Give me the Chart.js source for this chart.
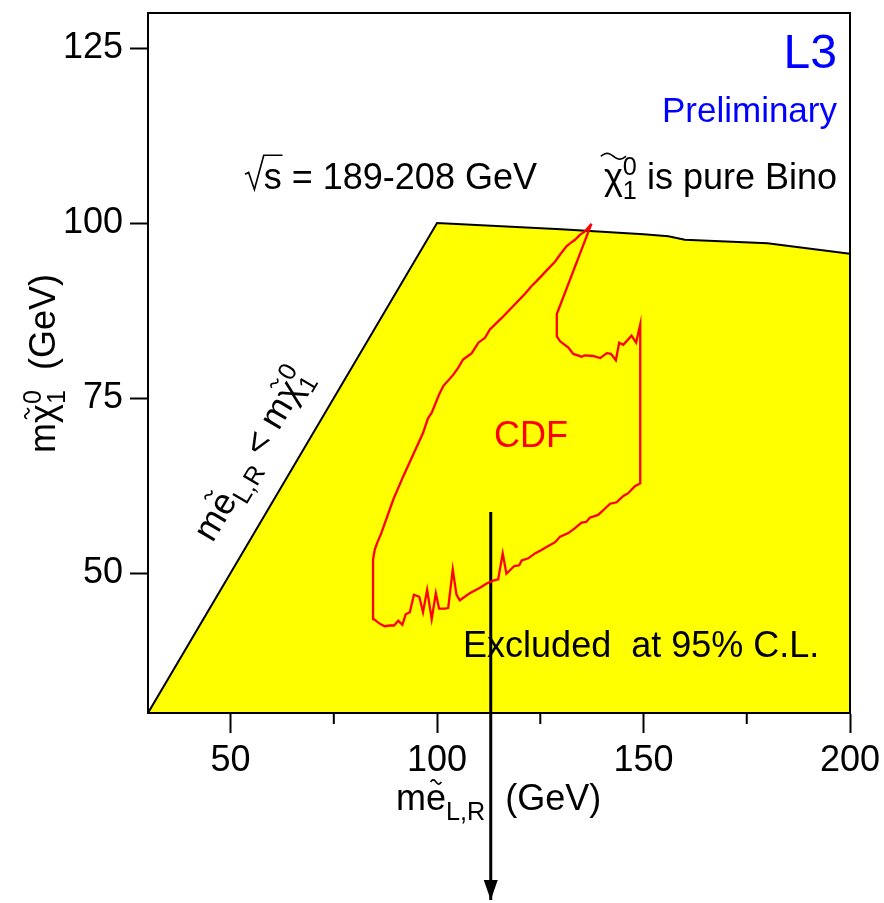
<!DOCTYPE html>
<html>
<head>
<meta charset="utf-8">
<script src="https://cdn.jsdelivr.net/npm/chart.js@4.4.0/dist/chart.umd.min.js"></script>
<style>
  html, body { margin: 0; padding: 0; background: #fff; }
  #wrap { width: 884px; height: 903px; position: relative; }
</style>
</head>
<body>
<div id="wrap"><canvas id="chart"></canvas></div>
<script>
const FONT = '"Liberation Sans", Arial, Helvetica, sans-serif';

// edge of the excluded region: kinematic limit, then the upper bound
const boundaryX = [30, 100, 130, 150, 156, 160, 180, 200];
const boundaryY = [30, 100, 99.1, 98.4, 98.1, 97.6, 97.1, 95.6];

// CDF contour, closed
const cdfX = [
  137.4, 129.0, 129.0, 129.8, 131.8, 133.0, 135.0, 135.8, 137.8, 139.5,
  141.1, 142.1, 143.3, 144.1, 145.1, 147.1, 148.2, 149.2, 149.2, 147.9,
  146.3, 145.1, 143.5, 141.9, 140.3, 139.0, 137.0, 136.1, 135.0, 133.4,
  131.8, 129.8, 128.6, 126.5, 125.3, 123.7, 122.1, 120.5, 119.9, 118.7,
  116.8, 115.9, 114.8, 113.6, 112.0, 110.4, 107.9, 105.5, 104.7, 103.8,
  102.7, 101.9, 100.5, 99.7, 98.7, 97.6, 96.6, 95.7, 94.4, 93.4,
  92.4, 91.6, 90.6, 89.6, 88.6, 87.3, 86.0, 84.7, 84.5, 84.9,
  85.5, 86.5, 89.4, 91.8, 94.2, 96.6, 97.8, 98.7, 100.5, 101.5,
  103.9, 105.1, 106.3, 108.4, 110.0, 111.6, 112.8, 115.6, 118.4, 121.3,
  122.9, 124.1, 126.5, 128.6, 129.8, 131.4, 132.2, 133.4, 134.6, 135.8, 137.4
];
const cdfY = [
  99.9, 87.0, 83.8, 83.1, 82.2, 81.3, 80.9, 81.1, 81.0, 80.7,
  81.4, 81.3, 80.4, 82.9, 82.6, 83.9, 82.9, 85.5, 62.8, 62.4,
  61.4, 61.0, 60.1, 59.9, 59.0, 58.3, 57.9, 57.3, 57.2, 56.4,
  55.7, 55.2, 54.4, 53.7, 53.3, 52.8, 52.1, 51.8, 51.1, 51.0,
  49.9, 52.8, 49.1, 48.9, 48.5, 47.9, 47.1, 46.1, 46.9, 50.5,
  45.0, 44.9, 44.9, 47.1, 43.4, 47.6, 44.4, 46.6, 46.9, 44.4,
  44.1, 42.6, 43.2, 42.5, 42.5, 42.4, 42.8, 43.4, 51.9, 53.3,
  54.3, 55.7, 60.5, 63.8, 66.9, 70.0, 72.1, 72.9, 75.5, 76.7,
  78.3, 79.3, 80.5, 81.4, 82.9, 83.6, 84.8, 86.4, 88.1, 89.9,
  91.0, 91.7, 93.2, 94.5, 95.5, 96.7, 97.1, 97.6, 98.3, 98.8, 99.9
];

// downward arrow, runs past the bottom of the frame
const arrowX = [113, 113];
const arrowY = [58.7, 3.3];

const xTicks = [50, 100, 150, 200];
const xMinorTicks = [75, 125, 175];
const yTicks = [50, 75, 100, 125];

function points(xs, ys) {
  return xs.map((x, i) => ({ x, y: ys[i] }));
}

function drawTilde(ctx, cx, cy, w, h) {
  ctx.beginPath();
  for (let i = 0; i <= 20; i++) {
    const t = i / 20;
    const px = cx - w / 2 + t * w;
    const py = cy - Math.sin(t * Math.PI * 2) * h / 2;
    if (i === 0) ctx.moveTo(px, py); else ctx.lineTo(px, py);
  }
  ctx.stroke();
}

// text with tildes, stacked sub/superscripts and a square root
function rich(ctx, parts, x, y, size, color, align) {
  const big = `${size}px ${FONT}`;
  const little = `${size * 0.7}px ${FONT}`;
  ctx.fillStyle = color;
  ctx.strokeStyle = color;
  ctx.lineWidth = Math.max(1.5, size / 22);
  ctx.textBaseline = 'alphabetic';
  ctx.textAlign = 'left';
  let x0 = 0;
  const run = (draw) => {
    let cx = 0;
    for (const p of parts) {
      if (p.sqrt) {
        ctx.font = big;
        const w = ctx.measureText(p.sqrt).width;
        const r = size * 0.52;
        if (draw) {
          const a = x0 + cx;
          ctx.beginPath();
          ctx.moveTo(a, y - size * 0.42);
          ctx.lineTo(a + size * 0.1, y - size * 0.47);
          ctx.lineTo(a + size * 0.26, y);
          ctx.lineTo(a + r, y - size * 0.95);
          ctx.lineTo(a + r + w + size * 0.02, y - size * 0.95);
          ctx.stroke();
          ctx.fillText(p.sqrt, a + r, y);
        }
        cx += r + w;
      } else if (p.sub !== undefined) {
        ctx.font = little;
        const ws = ctx.measureText(p.sub).width;
        const wp = p.sup ? ctx.measureText(p.sup).width : 0;
        if (draw) {
          ctx.fillText(p.sub, x0 + cx, y + size * 0.27);
          if (p.sup) ctx.fillText(p.sup, x0 + cx, y - size * 0.4);
        }
        cx += Math.max(ws, wp);
      } else {
        ctx.font = big;
        const w = ctx.measureText(p.t).width;
        if (draw) {
          ctx.fillText(p.t, x0 + cx, y);
          if (p.tilde === 'wide') drawTilde(ctx, x0 + cx + w / 2, y - size * 0.92, size * 0.7, size * 0.16);
          else if (p.tilde) drawTilde(ctx, x0 + cx + w / 2, y - size * 0.78, size * 0.3, size * 0.12);
        }
        cx += w;
      }
    }
    return cx;
  };
  const width = run(false);
  x0 = align === 'right' ? x - width : align === 'center' ? x - width / 2 : x;
  run(true);
}

const decorations = {
  id: 'decorations',
  afterDatasetsDraw(chart) {
    const { ctx } = chart;
    const meta = chart.getDatasetMeta(1);
    const tip = meta.data[meta.data.length - 1];
    ctx.save();
    ctx.fillStyle = '#000';
    ctx.beginPath();
    ctx.moveTo(tip.x, tip.y);
    ctx.lineTo(tip.x - 7, tip.y - 20);
    ctx.lineTo(tip.x + 7, tip.y - 20);
    ctx.closePath();
    ctx.fill();
    ctx.restore();
  },
  afterDraw(chart) {
    const { ctx, chartArea: a, scales } = chart;
    const X = (v) => scales.x.getPixelForValue(v);
    const Y = (v) => scales.y.getPixelForValue(v);
    ctx.save();

    // frame
    ctx.strokeStyle = '#000';
    ctx.lineWidth = 2;
    ctx.strokeRect(a.left, a.top, a.right - a.left, a.bottom - a.top);

    // minor ticks on the x axis
    ctx.beginPath();
    for (const v of xMinorTicks) {
      ctx.moveTo(X(v), a.bottom);
      ctx.lineTo(X(v), a.bottom + 11);
    }
    ctx.stroke();

    const S = 36;
    rich(ctx, [{ t: 'L3' }], X(196.85), Y(122.1), 48, '#0000ff', 'right');
    rich(ctx, [{ t: 'Preliminary' }], X(196.85), Y(114.4), 35, '#0000ff', 'right');
    rich(ctx, [{ t: '\u03c7', tilde: 'wide' }, { sub: '1', sup: '0' }, { t: ' is pure Bino' }],
      X(196.85), Y(104.8), S, '#000', 'right');
    rich(ctx, [{ sqrt: 's' }, { t: ' = 189-208 GeV' }], X(53.5), Y(104.8), S, '#000', 'left');
    rich(ctx, [{ t: 'CDF' }], X(113.8), Y(68), S, '#ff0000', 'left');
    rich(ctx, [{ t: 'Excluded  at 95% C.L.' }], X(106.3), Y(38), S, '#000', 'left');

    // label along the kinematic limit
    const ang = Math.atan2(Y(100) - Y(30), X(100) - X(30));
    ctx.save();
    ctx.translate(X(45.6), Y(54.2));
    ctx.rotate(ang);
    rich(ctx, [{ t: 'm' }, { t: 'e', tilde: true }, { sub: 'L,R' }, { t: ' < m' },
      { t: '\u03c7', tilde: true }, { sub: '1', sup: '0' }], 0, 0, S, '#000', 'left');
    ctx.restore();

    // axis titles
    rich(ctx, [{ t: 'm' }, { t: 'e', tilde: true }, { sub: 'L,R' }, { t: '  (GeV)' }],
      a.left + 248, a.bottom + 97, S, '#000', 'left');
    ctx.save();
    ctx.translate(a.left - 93, a.top + 440);
    ctx.rotate(-Math.PI / 2);
    rich(ctx, [{ t: 'm' }, { t: '\u03c7', tilde: true }, { sub: '1', sup: '0' }, { t: '  (GeV)' }],
      0, 0, S, '#000', 'left');
    ctx.restore();

    ctx.restore();
  }
};

const tickFont = { family: FONT, size: 36 };

new Chart(document.getElementById('chart'), {
  type: 'line',
  data: {
    datasets: [
      {
        label: 'CDF',
        data: points(cdfX, cdfY),
        borderColor: '#ff0000',
        borderWidth: 2.3,
        pointRadius: 0,
        fill: false,
        tension: 0
      },
      {
        label: 'arrow',
        data: points(arrowX, arrowY),
        borderColor: '#000',
        borderWidth: 3,
        pointRadius: 0,
        fill: false,
        clip: false
      },
      {
        label: 'Excluded at 95% C.L.',
        data: points(boundaryX, boundaryY),
        borderColor: '#000',
        borderWidth: 2,
        backgroundColor: '#ffff00',
        pointRadius: 0,
        fill: 'start',
        tension: 0
      }
    ]
  },
  options: {
    responsive: true,
    maintainAspectRatio: false,
    animation: false,
    layout: { padding: { top: 13, right: 34, left: 0, bottom: 0 } },
    plugins: {
      legend: { display: false },
      tooltip: { enabled: false }
    },
    scales: {
      x: {
        type: 'linear',
        min: 30,
        max: 200,
        afterBuildTicks(scale) { scale.ticks = xTicks.map((v) => ({ value: v })); },
        afterFit(scale) {
          scale.height = 190;
          scale.paddingLeft = 0;
          scale.paddingRight = 0;
        },
        grid: { drawOnChartArea: false, tickLength: 20, tickWidth: 2, tickColor: '#000' },
        border: { display: true, color: '#000', width: 2 },
        ticks: {
          font: tickFont,
          color: '#000',
          padding: 6,
          maxRotation: 0,
          autoSkip: false,
          callback: (v) => String(v)
        }
      },
      y: {
        min: 30,
        max: 130,
        afterBuildTicks(scale) { scale.ticks = yTicks.map((v) => ({ value: v })); },
        afterFit(scale) {
          scale.width = 148;
          scale.paddingTop = 0;
          scale.paddingBottom = 0;
        },
        grid: { drawOnChartArea: false, tickLength: 18, tickWidth: 2, tickColor: '#000' },
        border: { display: true, color: '#000', width: 2 },
        ticks: {
          font: tickFont,
          color: '#000',
          padding: 7,
          autoSkip: false,
          callback: (v) => String(v)
        }
      }
    }
  },
  plugins: [decorations]
});
</script>
</body>
</html>
